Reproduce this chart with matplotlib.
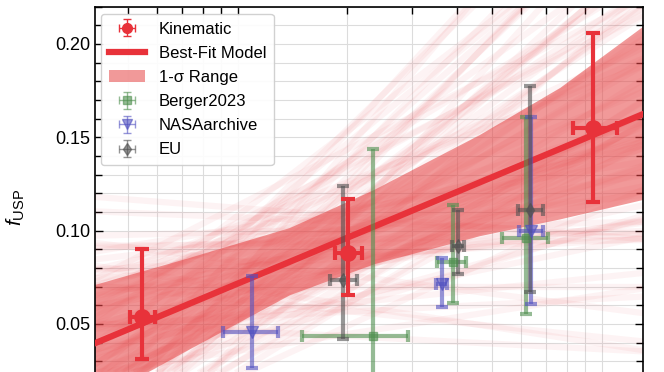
import numpy as np
import matplotlib
matplotlib.use("Agg")
import matplotlib.pyplot as plt
from matplotlib.ticker import MultipleLocator, LogLocator, NullFormatter

plt.rcParams["font.family"] = ["Liberation Sans", "DejaVu Sans"]
plt.rcParams["mathtext.fontset"] = "custom"
plt.rcParams["mathtext.rm"] = "Liberation Sans"
plt.rcParams["mathtext.it"] = "Liberation Sans:italic"

# -----------------------------
# DATA
# -----------------------------
x_edges = [0.405, 12.97]

# best-fit model, value at the two x edges (straight in log x)
fit_f = [0.0397, 0.1624]

# 1-sigma band
band_x = [0.405, 0.738, 1.39, 2.37, 4.62, 7.68, 12.97]
band_lo = [0.0085, 0.0364, 0.0654, 0.0820, 0.0970, 0.1060, 0.1164]
band_hi = [0.0709, 0.0854, 0.1014, 0.1218, 0.1512, 0.1764, 0.2091]

# posterior sample lines: value at the pivot x=1.4 and slope per dex
x_pivot = 1.4
samp_fp = [0.088, 0.061, 0.097, 0.076, 0.110, 0.067, 0.085, 0.051, 0.094, 0.079,
           0.103, 0.072, 0.083, 0.119, 0.058, 0.090, 0.081, 0.099, 0.070, 0.106,
           0.045, 0.087, 0.078, 0.096, 0.065, 0.092, 0.074, 0.114, 0.054, 0.083,
           0.089, 0.068, 0.102, 0.080, 0.095, 0.060, 0.086, 0.075, 0.109, 0.070,
           0.093, 0.082, 0.100, 0.055, 0.088, 0.077, 0.106, 0.066, 0.091, 0.078,
           0.097, 0.062, 0.084, 0.073, 0.116, 0.071, 0.098, 0.048, 0.085, 0.078,
           # tails
           0.125, 0.130, 0.120, 0.112, 0.118, 0.105, 0.128, 0.100, 0.122, 0.115,
           0.040, 0.045, 0.050, 0.060, 0.035, 0.055, 0.065, 0.042, 0.058, 0.070,
           0.095, 0.108, 0.072, 0.090, 0.062, 0.100, 0.080, 0.110]
samp_b = [0.058, 0.124, 0.147, 0.030, 0.091, 0.067, 0.166, 0.110, 0.006, 0.086,
          0.044, 0.138, 0.072, 0.100, 0.020, 0.114, 0.180, 0.053, 0.096, -0.008,
          0.105, 0.063, 0.129, 0.035, 0.082, 0.157, 0.049, 0.077, 0.119, 0.016,
          0.143, 0.091, 0.058, 0.025, 0.124, 0.100, 0.039, 0.152, 0.086, 0.067,
          0.002, 0.110, 0.133, 0.053, 0.074, 0.176, 0.032, 0.098, 0.060, 0.117,
          0.023, 0.089, 0.140, 0.042, 0.107, 0.065, 0.079, 0.126, 0.011, 0.103,
          0.190, 0.150, 0.210, 0.170, 0.120, 0.200, 0.100, 0.185, 0.160, 0.140,
          0.030, -0.010, 0.060, -0.020, 0.090, 0.010, -0.030, 0.120, 0.040, 0.000,
          0.195, 0.230, 0.215, 0.205, 0.170, 0.005, -0.025, -0.015]

# Kinematic
kin_x = [0.544, 2.005, 9.46]
kin_xlo = [0.505, 1.847, 8.34]
kin_xhi = [0.591, 2.187, 10.97]
kin_f = [0.0539, 0.0880, 0.1548]
kin_flo = [0.0311, 0.0655, 0.1155]
kin_fhi = [0.0902, 0.1170, 0.2057]

# Berger2023
ber_x = [2.344, 3.89, 6.18]
ber_xlo = [1.499, 3.53, 5.32]
ber_xhi = [2.93, 4.23, 7.12]
ber_f = [0.0436, 0.0832, 0.0962]
ber_flo = [-0.056, 0.0611, 0.0552]
ber_fhi = [0.1436, 0.1137, 0.1610]

# NASAarchive
nasa_x = [1.095, 3.63, 6.38]
nasa_xlo = [0.911, 3.50, 5.92]
nasa_xhi = [1.29, 3.76, 6.90]
nasa_f = [0.0459, 0.0713, 0.0998]
nasa_flo = [0.0263, 0.0593, 0.0609]
nasa_fhi = [0.0757, 0.0855, 0.1607]

# EU
eu_x = [1.946, 4.015, 6.34]
eu_xlo = [1.789, 3.87, 5.89]
eu_xhi = [2.127, 4.185, 6.90]
eu_f = [0.0736, 0.0918, 0.1111]
eu_flo = [0.0421, 0.0768, 0.0671]
eu_fhi = [0.1239, 0.1111, 0.1775]


def errs(x, lo, hi):
    x = np.array(x)
    return [x - np.array(lo), np.array(hi) - x]


RED = "#e8323a"
GREEN = "#4e8f4e"
BLUE = "#5050c0"
GREY = "#505050"

fig = plt.figure(figsize=(6.64, 3.72), dpi=100)
ax = fig.add_axes([95 / 664, -0.0215, 548 / 664, 1.0038])

# posterior samples (straight lines in log x through the pivot)
dl = np.log10(np.array(x_edges)) - np.log10(x_pivot)
for fp, b in zip(samp_fp, samp_b):
    ax.plot(x_edges, fp + b * dl, color=RED, alpha=0.055, lw=4.5, zorder=1,
            solid_capstyle="butt")

band = ax.fill_between(band_x, band_lo, band_hi, color="#e64545", alpha=0.55,
                       lw=0, zorder=2)
fit, = ax.plot(x_edges, fit_f, color=RED, lw=4.5, zorder=3)

common = dict(ls="none", elinewidth=3, capsize=4, capthick=3, zorder=4)
ax.errorbar(ber_x, ber_f, xerr=errs(ber_x, ber_xlo, ber_xhi),
            yerr=errs(ber_f, ber_flo, ber_fhi), fmt="s", ms=6,
            color=GREEN, alpha=0.6, **common)
ax.errorbar(nasa_x, nasa_f, xerr=errs(nasa_x, nasa_xlo, nasa_xhi),
            yerr=errs(nasa_f, nasa_flo, nasa_fhi), fmt="v", ms=8,
            color=BLUE, alpha=0.6, **common)
ax.errorbar(eu_x, eu_f, xerr=errs(eu_x, eu_xlo, eu_xhi),
            yerr=errs(eu_f, eu_flo, eu_fhi), fmt="d", ms=7,
            color=GREY, alpha=0.6, **common)
ax.errorbar(kin_x, kin_f, xerr=errs(kin_x, kin_xlo, kin_xhi),
            yerr=errs(kin_f, kin_flo, kin_fhi), fmt="o", ms=11,
            color=RED, ls="none", elinewidth=3, capsize=5, capthick=3, zorder=5)

# small proxies for the legend
def proxy(fmt, color, alpha, ms):
    return ax.errorbar([np.nan], [np.nan], xerr=[0.1], yerr=[0.01], fmt=fmt,
                       ms=ms, color=color, alpha=alpha, elinewidth=1,
                       capsize=3, capthick=1)

h_kin = proxy("o", RED, 1.0, 7)
h_ber = proxy("s", GREEN, 0.6, 6)
h_nasa = proxy("v", BLUE, 0.6, 7)
h_eu = proxy("d", GREY, 0.6, 6)

ax.set_xscale("log")
ax.set_xlim(0.405, 12.97)
ax.set_ylim(0.02, 0.22)
ax.yaxis.set_major_locator(MultipleLocator(0.05))
ax.yaxis.set_minor_locator(MultipleLocator(0.01))
ax.yaxis.set_major_formatter(plt.FormatStrFormatter("%.2f"))
ax.xaxis.set_minor_locator(LogLocator(base=10, subs=np.arange(2, 10)))
ax.xaxis.set_minor_formatter(NullFormatter())

ax.grid(True, which="both", color="#dcdcdc", lw=0.8, zorder=0)
ax.set_axisbelow(True)
ax.tick_params(which="both", direction="in", top=True, right=True,
               labelsize=13, width=1, labelbottom=False)
ax.tick_params(which="major", length=6)
ax.tick_params(which="minor", length=5)
for s in ax.spines.values():
    s.set_linewidth(1.2)

ax.set_ylabel(r"$f_{\rm USP}$", fontsize=15)
ax.yaxis.set_label_coords(-0.124, 0.463)

ax.legend([h_kin, fit, band, h_ber, h_nasa, h_eu],
          ["Kinematic", "Best-Fit Model", "1-σ Range", "Berger2023", "NASAarchive", "EU"],
          loc="upper left", bbox_to_anchor=(0.011, 0.980), borderaxespad=0,
          fontsize=12, frameon=True, fancybox=True, framealpha=0.9,
          edgecolor="#cccccc", labelspacing=0.55, handlelength=2.2,
          handletextpad=0.8, borderpad=0.45)

fig.savefig("out.png", dpi=100)
